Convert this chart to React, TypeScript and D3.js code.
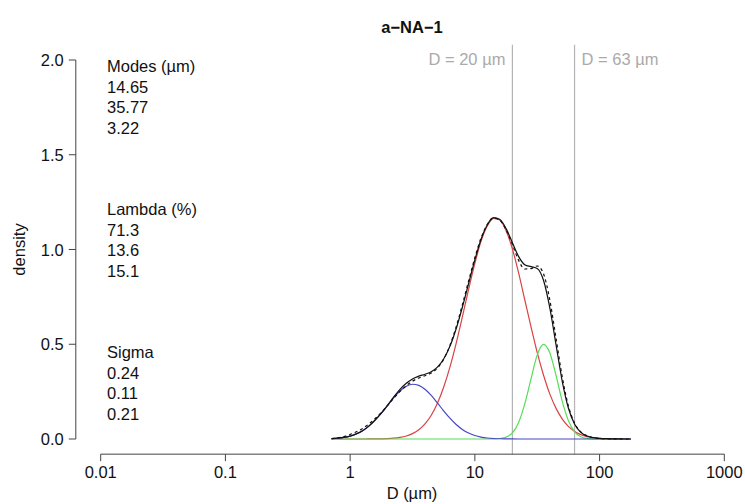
import React from "react";
import * as d3 from "d3";

// Particle diameter grid (µm)
const diameters = [
  0.71, 0.79, 0.89, 1.0, 1.12, 1.26, 1.41, 1.58, 1.78, 2.0,
  2.24, 2.51, 2.82, 3.16, 3.55, 3.98, 4.47, 5.01, 5.62, 6.31,
  7.08, 7.94, 8.91, 10, 11.2, 12.6, 14.1, 15.8, 17.8, 20.0,
  22.4, 25.1, 28.2, 31.6, 35.5, 39.8, 44.7, 50.1, 56.2, 63.1,
  70.8, 79.4, 89.1, 100, 112, 126, 141, 158, 178,
];

// Component 1 (red)
const comp1 = [
  0, 0, 0, 0, 0, 0.0001, 0.0002, 0.0005, 0.001, 0.0021,
  0.0044, 0.0085, 0.0158, 0.0282, 0.0483, 0.0793, 0.125, 0.1887, 0.2732, 0.3793,
  0.5051, 0.6448, 0.7891, 0.9264, 1.0427, 1.1253, 1.1645, 1.1556, 1.0995, 1.0031,
  0.8776, 0.7361, 0.5921, 0.4568, 0.3378, 0.2396, 0.1629, 0.1062, 0.0664, 0.0398,
  0.0229, 0.0126, 0.0067, 0.0034, 0.0016, 0.0008, 0.0003, 0.0001, 0.0001,
];

// Component 2 (green)
const comp2 = [
  0, 0, 0, 0, 0, 0, 0, 0, 0, 0,
  0, 0, 0, 0, 0, 0, 0, 0, 0, 0,
  0, 0, 0, 0, 0, 0.0001, 0.0005, 0.0025, 0.01, 0.0326,
  0.0861, 0.1838, 0.3172, 0.4428, 0.4997, 0.4561, 0.3367, 0.201, 0.097, 0.0379,
  0.012, 0.0031, 0.0006, 0.0001, 0, 0, 0, 0, 0,
];

// Component 3 (blue)
const comp3 = [
  0.0021, 0.0044, 0.0085, 0.0155, 0.0268, 0.0438, 0.0676, 0.0986, 0.136, 0.177,
  0.2178, 0.2532, 0.2782, 0.2888, 0.2832, 0.2625, 0.2298, 0.1902, 0.1487, 0.1099,
  0.0767, 0.0506, 0.0315, 0.0186, 0.0103, 0.0054, 0.0027, 0.0013, 0.0006, 0.0002,
  0.0001, 0, 0, 0, 0, 0, 0, 0, 0, 0,
  0, 0, 0, 0, 0, 0, 0, 0, 0,
];

// Fitted mixture (black solid)
const fitted = [
  0.0021, 0.0044, 0.0085, 0.0155, 0.0268, 0.0439, 0.0678, 0.0991, 0.137, 0.1791,
  0.2222, 0.2617, 0.294, 0.317, 0.3315, 0.3418, 0.3548, 0.3789, 0.4219, 0.4892,
  0.5818, 0.6954, 0.8206, 0.945, 1.053, 1.1308, 1.1677, 1.1594, 1.1101, 1.0359,
  0.9638, 0.9199, 0.9093, 0.8996, 0.8375, 0.6957, 0.4996, 0.3072, 0.1634, 0.0777,
  0.0349, 0.0157, 0.0073, 0.0035, 0.0016, 0.0008, 0.0003, 0.0001, 0.0001,
];

// Observed distribution (black dashed)
const observed = [
  0.002, 0.006, 0.013, 0.024, 0.038, 0.056, 0.079, 0.107, 0.14, 0.178,
  0.216, 0.251, 0.281, 0.305, 0.322, 0.334, 0.348, 0.374, 0.421, 0.494,
  0.592, 0.708, 0.834, 0.957, 1.06, 1.133, 1.166, 1.155, 1.104, 1.026,
  0.944, 0.897, 0.899, 0.913, 0.872, 0.737, 0.534, 0.33, 0.175, 0.083,
  0.037, 0.016, 0.007, 0.003, 0.0015, 0.0007, 0.0003, 0.0001, 0.0001,
];

const modes = ["14.65", "35.77", "3.22"];
const lambdas = ["71.3", "13.6", "15.1"];
const sigmas = ["0.24", "0.11", "0.21"];

const xTicks = [0.01, 0.1, 1, 10, 100, 1000];
const xTickLabels = ["0.01", "0.1", "1", "10", "100", "1000"];
const yTicks = [0, 0.5, 1, 1.5, 2];
const yTickLabels = ["0.0", "0.5", "1.0", "1.5", "2.0"];
const refLines = [20, 63];
const refLabels = ["D = 20 µm", "D = 63 µm"];

const W = 745;
const H = 504;
const FONT = "'Liberation Sans', Arial, Helvetica, sans-serif";

export default function App() {
  const x = d3.scaleLog().domain([0.01, 1000]).range([100.7, 724.3]);
  const y = d3.scaleLinear().domain([0, 2]).range([439, 60]);
  const plotTop = y(2.08);
  const plotBottom = y(-0.08);
  const plotLeft = 75.8;

  const mk = (vals: number[]) =>
    d3
      .line<number>()
      .x((_, i) => x(diameters[i]))
      .y((v) => y(v))
      .curve(d3.curveMonotoneX)(vals) || "";

  const fs = 16.5;
  const textBlock = (title: string, vals: string[], baseY: number) => (
    <g>
      {[title, ...vals].map((t, i) => (
        <text key={i} x={107} y={baseY + i * 20.7} fontSize={fs} fill="#111">
          {t}
        </text>
      ))}
    </g>
  );

  return (
    <svg
      width={W}
      height={H}
      style={{ position: "absolute", left: 0, top: 0, background: "#fff" }}
      fontFamily={FONT}
    >
      <rect x={0} y={0} width={W} height={H} fill="#fff" />
      {/* title */}
      <text x={412} y={33} textAnchor="middle" fontSize={16.5} fontWeight="bold" fill="#111">
        a−NA−1
      </text>

      {/* reference lines */}
      {refLines.map((r, i) => (
        <g key={r}>
          <line x1={x(r)} x2={x(r)} y1={plotTop} y2={plotBottom} stroke="#b4b4b4" strokeWidth={1.2} />
          <text
            x={i === 0 ? x(r) - 7 : x(r) + 7}
            y={65}
            textAnchor={i === 0 ? "end" : "start"}
            fontSize={fs}
            fill="#aaaaaa"
          >
            {refLabels[i]}
          </text>
        </g>
      ))}

      {/* curves */}
      <path d={mk(comp1)} fill="none" stroke="#d94343" strokeWidth={1.2} />
      <path d={mk(comp2)} fill="none" stroke="#55dd55" strokeWidth={1.2} />
      <path d={mk(comp3)} fill="none" stroke="#4646c4" strokeWidth={1.2} />
      <path d={mk(fitted)} fill="none" stroke="#111" strokeWidth={1.2} />
      <path d={mk(observed)} fill="none" stroke="#111" strokeWidth={1.2} strokeDasharray="3,3" />

      {/* y axis */}
      <line x1={plotLeft} x2={plotLeft} y1={y(0)} y2={y(2)} stroke="#444" />
      {yTicks.map((t, i) => (
        <g key={t}>
          <line x1={plotLeft - 7} x2={plotLeft} y1={y(t)} y2={y(t)} stroke="#444" />
          <text x={plotLeft - 12} y={y(t) + 6} textAnchor="end" fontSize={fs} fill="#111">
            {yTickLabels[i]}
          </text>
        </g>
      ))}
      <text
        transform={`translate(25,${y(1)}) rotate(-90)`}
        textAnchor="middle"
        fontSize={fs}
        fill="#111"
      >
        density
      </text>

      {/* x axis */}
      <line x1={x(0.01)} x2={x(1000)} y1={plotBottom} y2={plotBottom} stroke="#444" />
      {xTicks.map((t, i) => (
        <g key={t}>
          <line x1={x(t)} x2={x(t)} y1={plotBottom} y2={plotBottom + 7} stroke="#444" />
          <text x={x(t)} y={478} textAnchor="middle" fontSize={fs} fill="#111">
            {xTickLabels[i]}
          </text>
        </g>
      ))}
      <text x={412} y={499} textAnchor="middle" fontSize={fs} fill="#111">
        D (µm)
      </text>

      {/* parameter text */}
      {textBlock("Modes (µm)", modes, 72)}
      {textBlock("Lambda (%)", lambdas, 215)}
      {textBlock("Sigma", sigmas, 358)}
    </svg>
  );
}
